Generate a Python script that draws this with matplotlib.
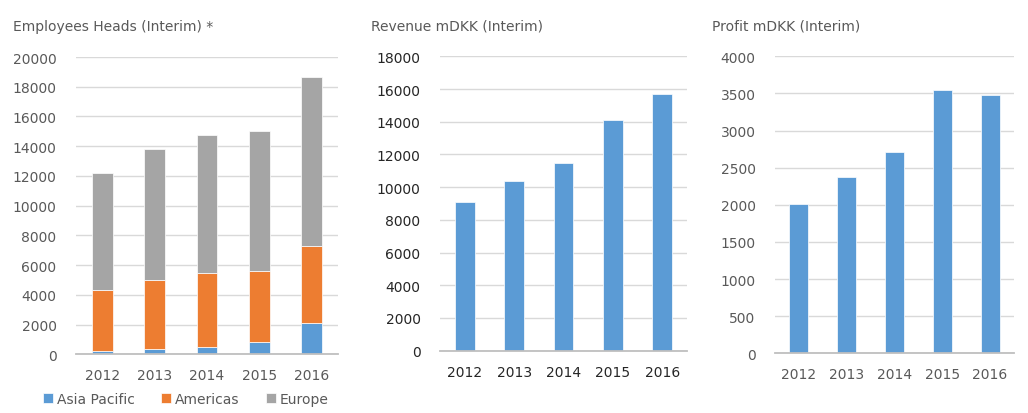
import matplotlib
matplotlib.use('Agg')
import matplotlib.pyplot as plt
import numpy as np

years = ['2012', '2013', '2014', '2015', '2016']

# employees (stacked)
asia_pacific = [220, 360, 470, 810, 2080]
americas = [4110, 4640, 4980, 4820, 5210]
europe = [7890, 8830, 9300, 9370, 11340]

revenue = [9110, 10400, 11450, 14120, 15680]
profit = [2010, 2375, 2710, 3545, 3485]

blue = '#5B9BD5'
orange = '#ED7D31'
grey = '#A5A5A5'

plt.rcParams['font.family'] = 'DejaVu Sans'

W, H = 1028, 414
fig = plt.figure(figsize=(W / 100, H / 100), dpi=100)


def make_ax(x0, x1, y0, y1):
    return fig.add_axes([x0 / W, (H - y1) / H, (x1 - x0) / W, (y1 - y0) / H])


def style(ax, top, step, lab_col):
    ax.set_xlim(-0.5, 4.5)
    ax.set_ylim(0, top)
    ax.set_yticks(np.arange(0, top + 1, step))
    ax.grid(axis='y', color='#D9D9D9', lw=1)
    ax.set_axisbelow(True)
    for s in ['top', 'right', 'left']:
        ax.spines[s].set_visible(False)
    ax.spines['bottom'].set_color('#BFBFBF')
    ax.spines['bottom'].set_linewidth(1.3)
    ax.tick_params(length=0, labelsize=10, colors=lab_col)
    ax.tick_params(axis='x', pad=10)
    ax.tick_params(axis='y', pad=14)


x = np.arange(len(years))

# employees
ax1 = make_ax(76, 338, 58, 355.3)
b1 = ax1.bar(x, asia_pacific, 0.4, color=blue, edgecolor='white', lw=0.5, label='Asia Pacific')
b2 = ax1.bar(x, americas, 0.4, bottom=asia_pacific, color=orange, edgecolor='white', lw=0.5, label='Americas')
bot = np.array(asia_pacific) + np.array(americas)
b3 = ax1.bar(x, europe, 0.4, bottom=bot, color=grey, edgecolor='white', lw=0.5, label='Europe')
ax1.set_xticks(x, years)
style(ax1, 20000, 2000, '#595959')
fig.legend(handles=[b1, b2, b3], loc='center', bbox_to_anchor=(186 / W, 1 - 400 / H), ncol=3,
           frameon=False, fontsize=10, handlelength=0.7, handleheight=0.7, handletextpad=0.3,
           columnspacing=1.9, labelcolor='#595959')

# revenue
ax2 = make_ax(440, 687, 57.3, 351.7)
ax2.bar(x, revenue, 0.4, color=blue, edgecolor='white', lw=0.5)
ax2.set_xticks(x, years)
style(ax2, 18000, 2000, '#262626')

# profit
ax3 = make_ax(775, 1014, 57.3, 354.3)
ax3.bar(x, profit, 0.4, color=blue, edgecolor='white', lw=0.5)
ax3.set_xticks(x, years)
style(ax3, 4000, 500, '#595959')

fig.text(13 / W, 1 - 27 / H, 'Employees Heads (Interim) *', fontsize=10, color='#595959', va='center')
fig.text(371 / W, 1 - 27 / H, 'Revenue mDKK (Interim)', fontsize=10, color='#595959', va='center')
fig.text(712 / W, 1 - 27 / H, 'Profit mDKK (Interim)', fontsize=10, color='#595959', va='center')

fig.savefig('out.png', dpi=100)
